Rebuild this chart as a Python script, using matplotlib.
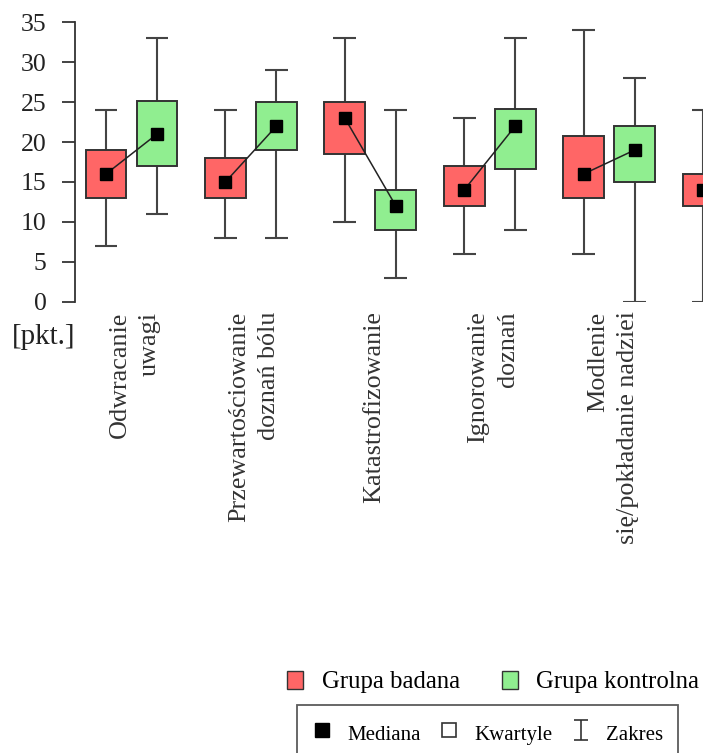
import matplotlib
matplotlib.use('Agg')
import matplotlib.pyplot as plt
from matplotlib.patches import Patch
from matplotlib.lines import Line2D
from matplotlib.path import Path
from matplotlib.transforms import blended_transform_factory

plt.rcParams['font.family'] = ['Liberation Serif', 'DejaVu Serif']

# Strategie radzenia sobie z bólem - wyniki w punktach
categories = ['Odwracanie\nuwagi', 'Przewartościowanie\ndoznań bólu', 'Katastrofizowanie',
              'Ignorowanie\ndoznań', 'Modlenie\nsię/pokładanie nadziei']

# Grupa badana (6 grup, ostatnia częściowo widoczna)
badana_min = [7, 8, 10, 6, 6, 0]
badana_q1 = [13, 13, 18.5, 12, 13, 12]
badana_med = [16, 15, 23, 14, 16, 14]
badana_q3 = [19, 18, 25, 17, 20.8, 16]
badana_max = [24, 24, 33, 23, 34, 24]

# Grupa kontrolna
kontrolna_min = [11, 8, 3, 9, 0]
kontrolna_q1 = [17, 19, 9, 16.6, 15]
kontrolna_med = [21, 22, 12, 22, 19]
kontrolna_q3 = [25.2, 25, 14, 24.2, 22]
kontrolna_max = [33, 29, 24, 33, 28]

red = '#ff6666'
green = '#90ee90'
edge = '#333333'
offset = 0.2136
box_w = 0.343
cap_w = 0.19

fig = plt.figure(figsize=(7.03, 7.53), dpi=100)
ax = fig.add_axes([0.1067, 0.5993, 0.8933, 0.3711])


def draw_group(xs, lo, q1, med, q3, hi, color):
    ax.vlines(xs, lo, hi, color='#444444', lw=1.5, zorder=1)
    ax.hlines(lo, [x - cap_w / 2 for x in xs], [x + cap_w / 2 for x in xs], color='#444444', lw=1.5, zorder=1)
    ax.hlines(hi, [x - cap_w / 2 for x in xs], [x + cap_w / 2 for x in xs], color='#444444', lw=1.5, zorder=1)
    ax.bar(xs, [b - a for a, b in zip(q1, q3)], bottom=q1, width=box_w,
           color=color, edgecolor=edge, linewidth=1.4, zorder=2)


x_bad = [i - offset for i in range(len(badana_med))]
x_kon = [i + offset for i in range(len(kontrolna_med))]
draw_group(x_bad, badana_min, badana_q1, badana_med, badana_q3, badana_max, red)
draw_group(x_kon, kontrolna_min, kontrolna_q1, kontrolna_med, kontrolna_q3, kontrolna_max, green)

# linie łączące mediany w parach
for i in range(len(kontrolna_med)):
    ax.plot([x_bad[i], x_kon[i]], [badana_med[i], kontrolna_med[i]], color='#222222', lw=1.1, zorder=3)
ax.plot(x_bad, badana_med, 's', color='black', ms=8.5, ls='none', zorder=4)
ax.plot(x_kon, kontrolna_med, 's', color='black', ms=8.5, ls='none', zorder=4)

ax.set_xlim(-0.473, 4.786)
ax.set_ylim(0, 35)
ax.set_yticks(range(0, 36, 5))
ax.tick_params(axis='y', length=9.5, width=1.2, labelsize=18.5, pad=11, colors='#222222')
ax.tick_params(axis='x', bottom=False, labelbottom=False)
for s in ['top', 'right', 'bottom']:
    ax.spines[s].set_visible(False)
ax.spines['left'].set_linewidth(1.3)
ax.spines['left'].set_color('#333333')
ax.patch.set_alpha(0)

trans = blended_transform_factory(ax.transData, ax.transAxes)
for i, lab in enumerate(categories):
    ax.text(i + 0.03, -0.035, lab, rotation=90, ha='center', va='top', multialignment='right',
            fontsize=18.8, linespacing=1.45, color='#333333', transform=trans)

fig.text(12 / 703, 1 - 337 / 753, '[pkt.]', fontsize=21, va='center', ha='left', color='#222222')

# legenda grup
grp_handles = [Patch(facecolor=red, edgecolor=edge, label='Grupa badana'),
               Patch(facecolor=green, edgecolor=edge, label='Grupa kontrolna')]
fig.legend(handles=grp_handles, loc='center left', bbox_to_anchor=(287 / 703, 1 - 682 / 753),
           ncol=2, frameon=False, fontsize=17.8, handlelength=0.65, handleheight=0.75,
           columnspacing=1.7, handletextpad=0.75, borderaxespad=0, borderpad=0)

# legenda symboli; "I" jako znacznik zakresu
range_mark = Path([(-0.35, 0.5), (0.35, 0.5), (0, 0.5), (0, -0.5), (-0.35, -0.5), (0.35, -0.5)],
                  [Path.MOVETO, Path.LINETO, Path.MOVETO, Path.LINETO, Path.MOVETO, Path.LINETO])
sym_handles = [Line2D([], [], marker='s', color='black', ls='none', ms=10, label='Mediana'),
               Line2D([], [], marker='s', mfc='white', mec='#333333', mew=1.2, ls='none', ms=10, label='Kwartyle'),
               Line2D([], [], marker=range_mark, mec='#333333', mew=1.2, ls='none', ms=14, label='Zakres')]
leg = fig.legend(handles=sym_handles, loc='upper left', bbox_to_anchor=(297 / 703, 1 - 705 / 753),
                 ncol=3, frameon=True, fancybox=False, fontsize=15, handlelength=1.0, handleheight=1.65,
                 handletextpad=0.72, columnspacing=0.85, borderpad=0.7, borderaxespad=0)
leg.get_frame().set_edgecolor('#333333')
leg.get_frame().set_linewidth(1.3)

fig.savefig('out.png', dpi=100)
